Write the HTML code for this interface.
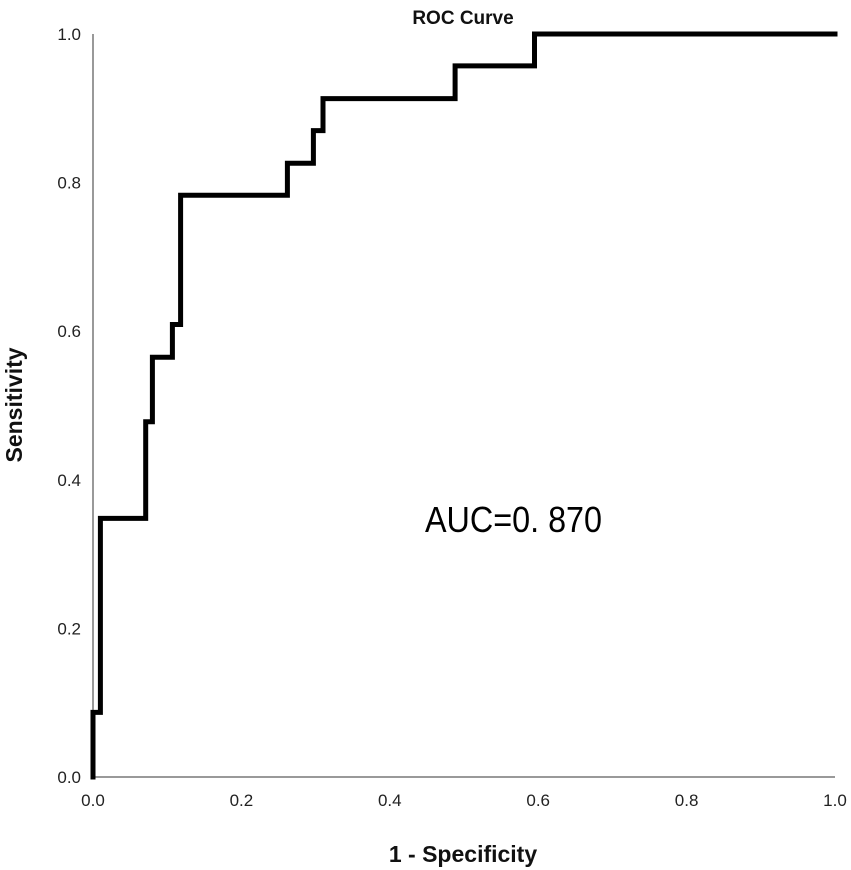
<!DOCTYPE html>
<html><head><meta charset="utf-8"><style>
html,body{margin:0;padding:0;background:#fff;}
svg{display:block;}
</style></head><body>
<svg id="chart" width="851" height="870" xmlns="http://www.w3.org/2000/svg" font-family="Liberation Sans, sans-serif">
<text x="463" y="24" font-size="19" font-weight="bold" text-anchor="middle" fill="#111">ROC Curve</text>
<g id="axes"></g>
<text transform="translate(22,405) rotate(-90)" font-size="23" font-weight="bold" text-anchor="middle" fill="#111">Sensitivity</text>
<text x="463" y="862" font-size="23" font-weight="bold" text-anchor="middle" fill="#111">1 - Specificity</text>
<text x="425" y="532" font-size="36" textLength="177" lengthAdjust="spacingAndGlyphs" font-family="WenQuanYi Zen Hei, Liberation Sans, sans-serif" fill="#000">AUC=0. 870</text>
<path id="roc" fill="none" stroke="#000" stroke-width="5" stroke-linejoin="miter" stroke-linecap="square"></path>
</svg>
<script>
const fprValues = [0, 0, 0.010, 0.010, 0.071, 0.071, 0.080, 0.080, 0.107, 0.107, 0.118, 0.118, 0.262, 0.262, 0.297, 0.297, 0.310, 0.310, 0.488, 0.488, 0.595, 0.595, 1.0];
const tprValues = [0, 0.087, 0.087, 0.348, 0.348, 0.478, 0.478, 0.565, 0.565, 0.609, 0.609, 0.783, 0.783, 0.826, 0.826, 0.870, 0.870, 0.913, 0.913, 0.957, 0.957, 1.0, 1.0];
const tickValues = [0, 0.2, 0.4, 0.6, 0.8, 1.0];
const tickLabels = ["0.0", "0.2", "0.4", "0.6", "0.8", "1.0"];

const X0 = 93, X1 = 835, Y0 = 777, Y1 = 34;
const sx = v => X0 + v * (X1 - X0);
const sy = v => Y0 - v * (Y0 - Y1);
const NS = "http://www.w3.org/2000/svg";
const axes = document.getElementById('axes');

const yAxis = document.createElementNS(NS, 'line');


yAxis.setAttribute('x1', X0); yAxis.setAttribute('x2', X0);
yAxis.setAttribute('y1', Y1); yAxis.setAttribute('y2', Y0);
yAxis.setAttribute('stroke', '#999'); yAxis.setAttribute('stroke-width', '2');
axes.appendChild(yAxis);

const xAxis = document.createElementNS(NS, 'line');


xAxis.setAttribute('x1', X0); xAxis.setAttribute('x2', X1);
xAxis.setAttribute('y1', Y0); xAxis.setAttribute('y2', Y0);
xAxis.setAttribute('stroke', '#999'); xAxis.setAttribute('stroke-width', '2');
axes.appendChild(xAxis);

tickValues.forEach((v, i) => {
  const ty = document.createElementNS(NS, 'text');
  
  
  ty.setAttribute('x', 81); ty.setAttribute('y', sy(v) + 6);
  ty.setAttribute('font-size', '17'); ty.setAttribute('text-anchor', 'end'); ty.setAttribute('fill', '#222');
  ty.textContent = tickLabels[i];
  axes.appendChild(ty);
  const tx = document.createElementNS(NS, 'text');
  
  
  tx.setAttribute('x', sx(v)); tx.setAttribute('y', Y0 + 29);
  tx.setAttribute('font-size', '17'); tx.setAttribute('text-anchor', 'middle'); tx.setAttribute('fill', '#222');
  tx.textContent = tickLabels[i];
  axes.appendChild(tx);
});

let d = '';
fprValues.forEach((f, i) => { d += (i ? 'L' : 'M') + sx(f).toFixed(1) + ',' + sy(tprValues[i]).toFixed(1); });
document.getElementById('roc').setAttribute('d', d);
</script>
</body></html>
